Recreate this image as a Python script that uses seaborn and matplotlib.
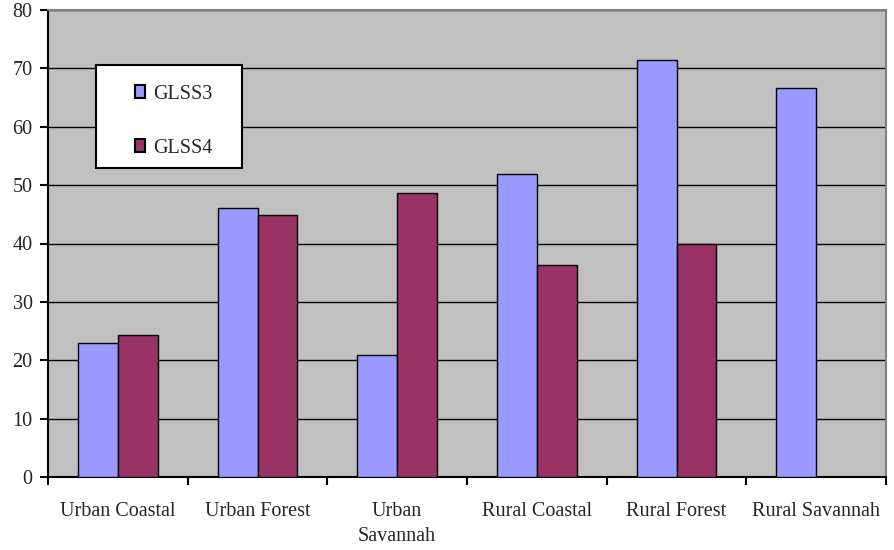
import matplotlib
matplotlib.use("Agg")
import matplotlib.pyplot as plt
from matplotlib.patches import Rectangle
from matplotlib.ticker import FixedLocator
import seaborn as sns
import pandas as pd
import numpy as np

regions = ["Urban Coastal", "Urban Forest", "Urban\nSavannah",
           "Rural Coastal", "Rural Forest", "Rural Savannah"]
glss3 = [22.9, 46.1, 20.9, 51.9, 71.5, 66.7]
glss4 = [24.3, 44.9, 48.6, 36.3, 40.0, np.nan]
series = ["GLSS3", "GLSS4"]
colors = ["#9999FF", "#993366"]

df = pd.DataFrame({
    "region": regions * 2,
    "value": glss3 + glss4,
    "survey": [series[0]] * len(regions) + [series[1]] * len(regions),
})

sns.set_style("white")
plt.rcParams["font.family"] = ["Liberation Serif", "DejaVu Serif"]
FS = 14.5

fig = plt.figure(figsize=(8.94, 5.5), dpi=100)
ax = fig.add_axes([48 / 894, 73 / 550, 838 / 894, 467 / 550])
ax.set_facecolor("#C0C0C0")

sns.barplot(data=df, x="region", y="value", hue="survey", order=regions,
            hue_order=series, palette=colors, width=4 / 7, dodge=True,
            edgecolor="black", linewidth=1.0, saturation=1, ax=ax,
            zorder=3, legend=True)

ax.set_xlim(-0.5, len(regions) - 0.5)
ax.set_ylim(0, 80)
ax.set_yticks(np.arange(0, 81, 10))
ax.yaxis.grid(True, color="black", linewidth=1.0, zorder=1)
ax.set_axisbelow(True)
ax.set_xlabel("")
ax.set_ylabel("")

# category labels centred, tick marks at category boundaries
ax.tick_params(axis="x", which="major", length=0, pad=18, labelsize=FS)
for lbl in ax.get_xticklabels():
    lbl.set_linespacing(1.4)
    lbl.set_verticalalignment("top")
ax.xaxis.set_minor_locator(FixedLocator(np.arange(-0.5, len(regions), 1.0)))
ax.tick_params(axis="x", which="minor", length=6, width=1.5, direction="out",
               color="black", bottom=True)
ax.tick_params(axis="y", length=6, width=1.5, direction="out", color="black",
               left=True, labelsize=FS, pad=5)

for side in ["left", "bottom"]:
    ax.spines[side].set_color("black")
    ax.spines[side].set_linewidth(1.5)
for side in ["top", "right"]:
    ax.spines[side].set_color("#808080")
    ax.spines[side].set_linewidth(1.5)

# legend: white box with the entries centred inside it
ax.add_patch(Rectangle((0.057, 0.662), 0.174, 0.221, transform=ax.transAxes,
                       facecolor="white", edgecolor="black", linewidth=1.5,
                       zorder=4, clip_on=False))
handles, labels = ax.get_legend_handles_labels()
leg = ax.legend(handles, labels, loc="center",
                bbox_to_anchor=(0.150, 0.762), frameon=False,
                fontsize=FS, handlelength=0.5, handleheight=0.6,
                handletextpad=0.4, labelspacing=1.75, borderpad=0,
                borderaxespad=0)
leg.set_zorder(5)
for h in leg.legend_handles:
    h.set_edgecolor("black")
    h.set_linewidth(1.5)

fig.savefig("out.png", dpi=100)
